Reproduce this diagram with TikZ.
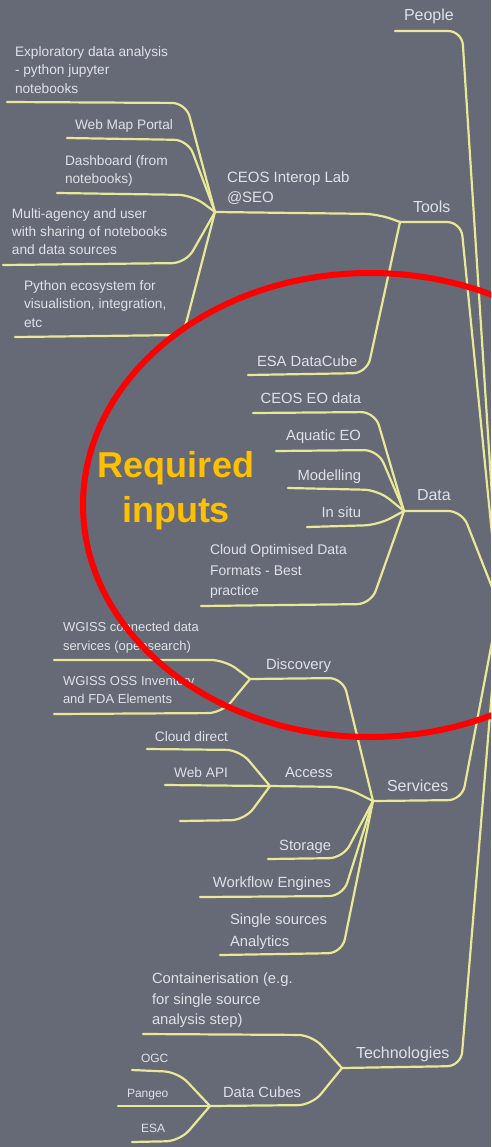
\documentclass[tikz,border=0pt]{standalone}
\usepackage{fontspec}
\setmainfont{Liberation Sans}
\definecolor{bgc}{RGB}{102,105,118}
\definecolor{lnc}{RGB}{232,232,150}
\definecolor{txc}{RGB}{224,225,232}
\definecolor{orc}{RGB}{255,192,0}
\tikzset{
  ln/.style={draw=lnc, line width=2.2pt, rounded corners=14pt, line cap=round, line join=round},
  lbl/.style={inner sep=0pt, outer sep=0pt, text=txc, align=left},
  tA/.style={lbl, font=\fontsize{16}{20}\selectfont},
  tB/.style={lbl, font=\fontsize{14.8}{20.5}\selectfont},
  tC/.style={lbl, font=\fontsize{13.7}{18.3}\selectfont},
  tW/.style={lbl, font=\fontsize{13}{18.3}\selectfont},
  tD/.style={lbl, font=\fontsize{12}{15}\selectfont},
}
\begin{document}
\begin{tikzpicture}[x=1pt,y=-1pt]
\useasboundingbox (0,0) rectangle (491,1147);
\clip (0,0) rectangle (491,1147);
\fill[bgc] (0,0) rectangle (491,1147);

% ---------- coordinates ----------
\coordinate (root) at (499,605);
\coordinate (pA) at (395,31);   \coordinate (pB) at (462,31);
\coordinate (jTools) at (400,222); \coordinate (tB) at (461,222);
\coordinate (jData) at (404,511);  \coordinate (dB) at (462,511);
\coordinate (jServ) at (373,801);  \coordinate (sB) at (462,800);
\coordinate (jTech) at (342,1068); \coordinate (teB) at (461,1066);

\coordinate (jCeos) at (215,212); \coordinate (cB) at (378,214);
\coordinate (eA) at (7,102);   \coordinate (eB) at (186,103);
\coordinate (wmA) at (67,138); \coordinate (wmB) at (188,140);
\coordinate (dsA) at (57,193); \coordinate (dsB) at (192,195);
\coordinate (maA) at (3,265);  \coordinate (maB) at (186,263);
\coordinate (pyA) at (15,337); \coordinate (pyB) at (183,335);
\coordinate (edA) at (248,375); \coordinate (edB) at (367,373);

\coordinate (ceA) at (253,413); \coordinate (ceB) at (375,412);
\coordinate (aqA) at (276,451); \coordinate (aqB) at (378,450);
\coordinate (moA) at (288,488); \coordinate (moB) at (378,490);
\coordinate (isA) at (307,527); \coordinate (isB) at (378,525);
\coordinate (coA) at (201,606); \coordinate (coB) at (371,604);

\coordinate (jDisc) at (250,679); \coordinate (diB) at (343,678);
\coordinate (w1A) at (54,660); \coordinate (w1B) at (225,660);
\coordinate (w2A) at (54,714); \coordinate (w2B) at (222,713);
\coordinate (jAcc) at (270,786); \coordinate (acB) at (345,787);
\coordinate (cdA) at (147,749); \coordinate (cdB) at (240,750);
\coordinate (waA) at (165,785);
\coordinate (emA) at (180,821); \coordinate (emB) at (245,820);
\coordinate (stA) at (268,859); \coordinate (stB) at (343,858);
\coordinate (wfA) at (200,897); \coordinate (wfB) at (343,896);
\coordinate (ssA) at (220,955); \coordinate (ssB) at (342,953);

\coordinate (ctA) at (143,1034); \coordinate (ctB) at (312,1035);
\coordinate (jDc) at (210,1106); \coordinate (dcB) at (312,1105);
\coordinate (ogA) at (132,1070); \coordinate (ogB) at (178,1072);
\coordinate (pgA) at (118,1106);
\coordinate (esA) at (132,1142); \coordinate (esB) at (180,1141);

% ---------- connectors ----------
\draw[ln] (pA) -- (pB) -- (root);
\draw[ln] (jTools) -- (tB) -- (root);
\draw[ln] (jData) -- (dB) -- (root);
\draw[ln] (jServ) -- (sB) -- (root);
\draw[ln] (jTech) -- (teB) -- (root);

\draw[ln] (jCeos) -- (cB) -- (jTools);
\draw[ln] (eA) -- (eB) -- (jCeos);
\draw[ln] (wmA) -- (wmB) -- (jCeos);
\draw[ln] (dsA) -- (dsB) -- (jCeos);
\draw[ln] (maA) -- (maB) -- (jCeos);
\draw[ln] (pyA) -- (pyB) -- (jCeos);
\draw[ln] (edA) -- (edB) -- (jTools);

\draw[ln] (ceA) -- (ceB) -- (jData);
\draw[ln] (aqA) -- (aqB) -- (jData);
\draw[ln] (moA) -- (moB) -- (jData);
\draw[ln] (isA) -- (isB) -- (jData);
\draw[ln] (coA) -- (coB) -- (jData);

\draw[ln] (jDisc) -- (diB) -- (jServ);
\draw[ln] (w1A) -- (w1B) -- (jDisc);
\draw[ln] (w2A) -- (w2B) -- (jDisc);
\draw[ln] (jAcc) -- (acB) -- (jServ);
\draw[ln] (cdA) -- (cdB) -- (jAcc);
\draw[ln] (waA) -- (jAcc);
\draw[ln] (emA) -- (emB) -- (jAcc);
\draw[ln] (stA) -- (stB) -- (jServ);
\draw[ln] (wfA) -- (wfB) -- (jServ);
\draw[ln] (ssA) -- (ssB) -- (jServ);

\draw[ln] (ctA) -- (ctB) -- (jTech);
\draw[ln] (jDc) -- (dcB) -- (jTech);
\draw[ln] (ogA) -- (ogB) -- (jDc);
\draw[ln] (pgA) -- (jDc);
\draw[ln] (esA) -- (esB) -- (jDc);

% ---------- labels ----------
\node[tA, anchor=base west] (people) at (404,21) {People};
\node[tA, anchor=base west] (tools) at (413,213) {Tools};
\node[tA, anchor=base west] (data) at (417,500) {Data};
\node[tA, anchor=base west] (services) at (387,791) {Services};
\node[tA, anchor=base west] (tech) at (356,1058) {Technologies};

\node[tB, anchor=west, font=\fontsize{15}{20}\selectfont] (ceos) at (227,188.5) {CEOS Interop Lab\\@SEO};
\node[tC, anchor=west] (expl) at (15,70) {Exploratory data analysis\\- python jupyter\\notebooks};
\node[tC, anchor=base west] (webmap) at (75,130) {Web Map Portal};
\node[tC, anchor=west] (dash) at (65,171) {Dashboard (from\\notebooks)};
\node[tC, anchor=west] (multi) at (12,231.5) {Multi-agency and user\\with sharing of notebooks\\and data sources};
\node[tC, anchor=west] (python) at (24,304) {Python ecosystem for\\visualistion, integration,\\etc};
\node[tB, anchor=base west] (esadc) at (257,366) {ESA DataCube};

\node[tB, anchor=base east] (ceoseo) at (361,403) {CEOS EO data};
\node[tB, anchor=base east] (aquatic) at (361,440) {Aquatic EO};
\node[tB, anchor=base east] (model) at (361,480) {Modelling};
\node[tB, anchor=base east] (insitu) at (361,517) {In situ};
\node[tB, anchor=west, font=\fontsize{14}{20.5}\selectfont] (cloud) at (210,571.5) {Cloud Optimised Data\\Formats - Best\\practice};

\node[tB, anchor=base west] (disc) at (266,669) {Discovery};
\node[tW, anchor=west] (wgiss1) at (63,637.5) {WGISS connected data\\services (opensearch)};
\node[tW, anchor=west] (wgiss2) at (63,690) {WGISS OSS Inventory\\and FDA Elements};
\node[tB, anchor=base west] (access) at (285,777) {Access};
\node[tC, anchor=base east] (clouddir) at (228,741) {Cloud direct};
\node[tC, anchor=base east] (webapi) at (228,777) {Web API};
\node[tB, anchor=base east] (storage) at (331,850) {Storage};
\node[tB, anchor=base east] (workflow) at (331,887) {Workflow Engines};
\node[tB, anchor=west, font=\fontsize{14.8}{21.7}\selectfont] (single) at (230,932) {Single sources\\Analytics};

\node[tB, anchor=west] (contain) at (152,1000.5) {Containerisation (e.g.\\for single source\\analysis step)};
\node[tB, anchor=base west] (cubes) at (223,1097) {Data Cubes};
\node[tD, anchor=base west] (ogc) at (141,1062) {OGC};
\node[tD, anchor=base west] (pangeo) at (127,1097) {Pangeo};
\node[tD, anchor=base west] (esa) at (141,1132) {ESA};

% ---------- highlight ----------
\draw[red, line width=6pt] (370,505) ellipse [x radius=287pt, y radius=232pt];
\node[inner sep=0pt, text=orc, align=center, font=\bfseries\fontsize{36}{45}\selectfont] (req) at (176,491) {Required\\inputs};
\end{tikzpicture}
\end{document}
